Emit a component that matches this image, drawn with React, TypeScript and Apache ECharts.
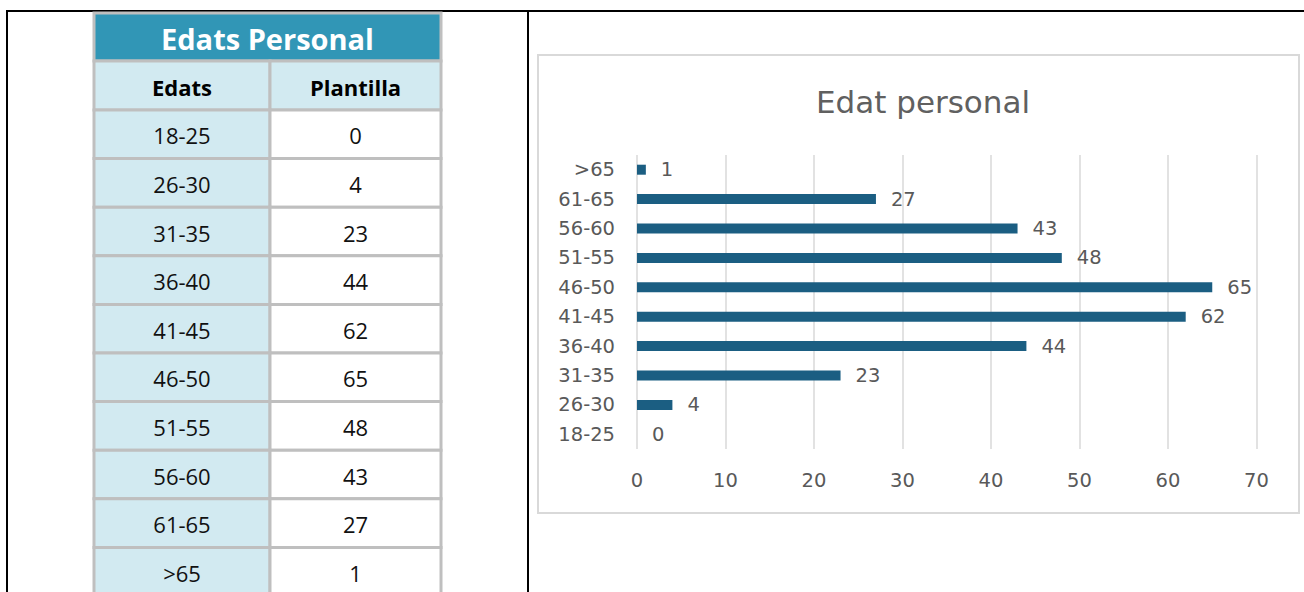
import React, { useEffect, useRef } from "react";
import * as echarts from "echarts";

const categories = ["18-25", "26-30", "31-35", "36-40", "41-45", "46-50", "51-55", "56-60", "61-65", ">65"];
const plantilla = [0, 4, 23, 44, 62, 65, 48, 43, 27, 1];
const tableTitle = "Edats Personal";
const tableHeaders = ["Edats", "Plantilla"];
const chartTitle = "Edat personal";
const xMin = 0;
const xMax = 70;
const xInterval = 10;

const TABLE_FONT = "'Open Sans', 'Noto Sans', sans-serif";
const CHART_FONT = "'DejaVu Sans', sans-serif";

export default function App() {
  const ref = useRef<HTMLDivElement>(null);

  useEffect(() => {
    if (!ref.current) return;
    const chart = echarts.init(ref.current, null, { renderer: "svg" });

    const border = "#bfbfbf";
    const light = "#d2eaf1";
    const teal = "#3196b6";
    const x0 = 94, xMid = 270, x1 = 441;
    const titleTop = 13, headTop = 61, dataTop = 110, rowH = 48.6;

    const g: any[] = [];
    // outer frame
    g.push({ type: "line", shape: { x1: 6, y1: 11, x2: 1304, y2: 11 }, style: { stroke: "#000", lineWidth: 2 } });
    g.push({ type: "line", shape: { x1: 7, y1: 10, x2: 7, y2: 592 }, style: { stroke: "#000", lineWidth: 2 } });
    g.push({ type: "line", shape: { x1: 528, y1: 10, x2: 528, y2: 592 }, style: { stroke: "#000", lineWidth: 2 } });

    // table title
    g.push({ type: "rect", shape: { x: x0, y: titleTop, width: x1 - x0, height: headTop - titleTop }, style: { fill: teal, stroke: border, lineWidth: 3 } });
    g.push({ type: "text", x: (x0 + x1) / 2, y: (titleTop + headTop) / 2 + 1, style: { text: tableTitle, fill: "#fff", font: `bold 29px ${TABLE_FONT}`, textAlign: "center", textVerticalAlign: "middle" } });
    // header row
    g.push({ type: "rect", shape: { x: x0, y: headTop, width: xMid - x0, height: dataTop - headTop }, style: { fill: light, stroke: border, lineWidth: 3 } });
    g.push({ type: "rect", shape: { x: xMid, y: headTop, width: x1 - xMid, height: dataTop - headTop }, style: { fill: light, stroke: border, lineWidth: 3 } });
    g.push({ type: "text", x: (x0 + xMid) / 2, y: (headTop + dataTop) / 2 + 1, style: { text: tableHeaders[0], fill: "#000", font: `bold 22px ${TABLE_FONT}`, textAlign: "center", textVerticalAlign: "middle" } });
    g.push({ type: "text", x: (xMid + x1) / 2, y: (headTop + dataTop) / 2 + 1, style: { text: tableHeaders[1], fill: "#000", font: `bold 22px ${TABLE_FONT}`, textAlign: "center", textVerticalAlign: "middle" } });
    // data rows
    categories.forEach((c, i) => {
      const y = dataTop + i * rowH;
      g.push({ type: "rect", shape: { x: x0, y, width: xMid - x0, height: rowH }, style: { fill: light, stroke: border, lineWidth: 3 } });
      g.push({ type: "rect", shape: { x: xMid, y, width: x1 - xMid, height: rowH }, style: { fill: "#fff", stroke: border, lineWidth: 3 } });
      g.push({ type: "text", x: (x0 + xMid) / 2, y: y + rowH / 2 + 1, style: { text: c, fill: "#111", font: `22px ${TABLE_FONT}`, textAlign: "center", textVerticalAlign: "middle" } });
      g.push({ type: "text", x: (xMid + x1) / 2, y: y + rowH / 2 + 1, style: { text: String(plantilla[i]), fill: "#111", font: `22px ${TABLE_FONT}`, textAlign: "center", textVerticalAlign: "middle" } });
    });

    // chart box
    g.push({ type: "rect", z: -1, shape: { x: 538, y: 55, width: 761, height: 458 }, style: { fill: "#fff", stroke: "#d9d9d9", lineWidth: 2 } });

    chart.setOption({
      animation: false,
      backgroundColor: "#fff",
      title: {
        text: chartTitle,
        left: 918,
        top: 81,
        textAlign: "center",
        textStyle: { fontFamily: CHART_FONT, fontSize: 31, fontWeight: "normal", color: "#606060" },
      },
      graphic: g,
      grid: { left: 637, right: 47.5, top: 155, bottom: 143, containLabel: false },
      xAxis: {
        type: "value",
        min: xMin,
        max: xMax,
        interval: xInterval,
        axisLine: { show: false },
        axisTick: { show: false },
        splitLine: { show: true, lineStyle: { color: "#d9d9d9", width: 1.5 } },
        axisLabel: { color: "#595959", fontFamily: CHART_FONT, fontSize: 19.5, margin: 21 },
      },
      yAxis: {
        type: "category",
        data: categories,
        axisLine: { show: false },
        axisTick: { show: false },
        splitLine: { show: false },
        axisLabel: { color: "#595959", fontFamily: CHART_FONT, fontSize: 19.5, margin: 22 },
      },
      series: [
        {
          type: "bar",
          data: plantilla,
          barWidth: 10,
          itemStyle: { color: "#1b5e82" },
          label: {
            show: true,
            position: "right",
            distance: 15,
            color: "#595959",
            fontFamily: CHART_FONT,
            fontSize: 19.5,
          },
        },
      ],
    });

    return () => chart.dispose();
  }, []);

  return (
    <div
      ref={ref}
      style={{ position: "fixed", left: 0, top: 0, width: 1304, height: 592, background: "#fff" }}
    />
  );
}
